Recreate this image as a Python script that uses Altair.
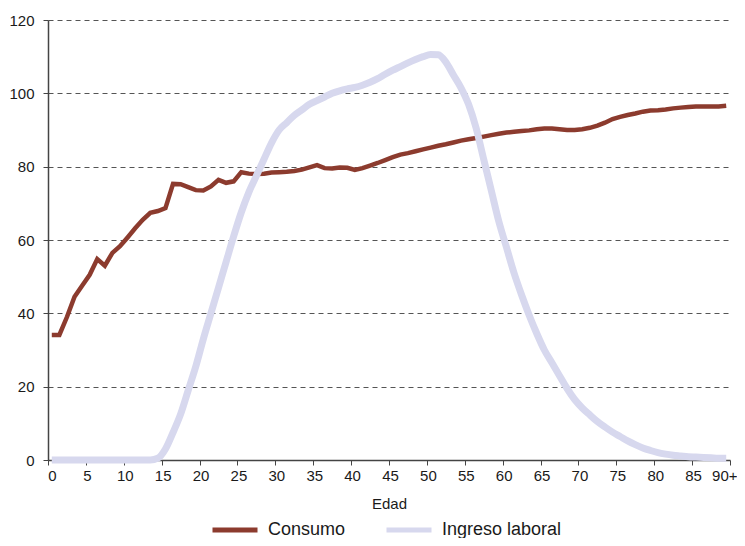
import altair as alt
import pandas as pd

edad = list(range(90))

consumo = [34.1, 34.1, 39.0, 44.5, 47.5, 50.5, 54.8, 53.0, 56.5, 58.3,
           60.7, 63.2, 65.5, 67.4, 67.9, 68.7, 75.3, 75.2, 74.4, 73.6,
           73.5, 74.6, 76.4, 75.6, 76.0, 78.5, 78.1, 78.0, 78.1, 78.4,
           78.5, 78.6, 78.8, 79.2, 79.8, 80.4, 79.6, 79.5, 79.8, 79.7,
           79.1, 79.6, 80.3, 81.0, 81.8, 82.6, 83.3, 83.7, 84.2, 84.7,
           85.2, 85.7, 86.1, 86.6, 87.1, 87.5, 87.8, 88.2, 88.6, 89.0,
           89.3, 89.5, 89.7, 89.9, 90.2, 90.4, 90.4, 90.2, 90.0, 90.0,
           90.2, 90.6, 91.2, 92.0, 93.0, 93.6, 94.1, 94.5, 95.0, 95.3,
           95.4, 95.6, 95.9, 96.1, 96.3, 96.4, 96.4, 96.4, 96.4, 96.6]

ingreso = [0, 0, 0, 0, 0, 0, 0, 0, 0, 0,
           0, 0, 0, 0, 0.5, 3.0, 7.5, 12.5, 19.0, 25.5,
           33.0, 40.0, 47.0, 54.0, 61.0, 67.5, 73.0, 77.5, 82.0, 86.5,
           90.0, 92.0, 94.0, 95.5, 97.0, 98.0, 99.0, 100.0, 100.7, 101.2,
           101.6, 102.2, 103.0, 104.0, 105.2, 106.3, 107.3, 108.3, 109.2, 110.0,
           110.6, 110.5, 108.5, 105.0, 101.5, 97.0, 90.5, 82.0, 73.5, 65.0,
           58.0, 51.0, 45.0, 39.5, 34.5, 30.0, 26.5, 23.0, 19.5, 16.5,
           14.2, 12.3, 10.5, 9.0, 7.6, 6.4, 5.2, 4.2, 3.3, 2.6,
           2.0, 1.6, 1.3, 1.1, 0.9, 0.8, 0.7, 0.6, 0.5, 0.5]

series = ["Consumo", "Ingreso laboral"]
colores = ["#8c3b2e", "#d7d8ee"]
ticks_x = list(range(0, 91, 5))
ticks_y = list(range(0, 121, 20))

df = pd.DataFrame({"edad": edad, "Consumo": consumo, "Ingreso laboral": ingreso}).melt(
    "edad", var_name="serie", value_name="valor")

FONT = "Liberation Sans, Arial, sans-serif"

base = alt.Chart(df).transform_calculate(pos="datum.edad + 0.5")

x = alt.X("pos:Q",
          scale=alt.Scale(domain=[0, 90], nice=False, zero=False),
          axis=alt.Axis(values=ticks_x,
                        labelExpr="datum.value == 90 ? '90+' : datum.label",
                        labelFlush=False,
                        labelAlign={"condition": {"test": "datum.value == 90", "value": "right"},
                                    "value": "center"},
                        labelOffset={"condition": [{"test": "datum.value == 90", "value": 7},
                                                   {"test": "datum.value == 0", "value": 4}],
                                     "value": 1},
                        title="Edad", grid=False, tickSize=5,
                        labelPadding=3, titlePadding=13,
                        labelFontSize=15, titleFontSize=15,
                        titleFontWeight="normal"))
y = alt.Y("valor:Q",
          scale=alt.Scale(domain=[0, 120], nice=False),
          axis=alt.Axis(values=ticks_y, title=None, grid=True,
                        gridDash=[5, 4], gridColor="#555555", gridWidth=1,
                        tickSize=5, labelPadding=9, labelFontSize=15))
color = alt.Color("serie:N",
                  scale=alt.Scale(domain=series, range=colores),
                  legend=alt.Legend(title=None, orient="none", direction="horizontal",
                                    legendX=162, legendY=485,
                                    symbolType="stroke", symbolSize=2025,
                                    symbolStrokeWidth=5, labelFontSize=18,
                                    labelOffset=8, columnPadding=30,
                                    labelColor="#1a1a1a"))

l1 = base.transform_filter("datum.serie == 'Consumo'").mark_line(
    strokeWidth=4.5).encode(x=x, y=y, color=color)
l2 = base.transform_filter("datum.serie == 'Ingreso laboral'").mark_line(
    strokeWidth=7, interpolate="monotone").encode(x=x, y=y, color=color)

chart = alt.layer(l1, l2).properties(
    width=682, height=440,
    autosize=alt.AutoSizeParams(type="none"),
    padding={"left": 40, "top": 12, "right": 7, "bottom": 78},
).configure_view(stroke=None).configure_axis(
    domainColor="#444444", domainWidth=1.5, tickColor="#444444",
    labelColor="#1a1a1a", titleColor="#1a1a1a",
    labelFont=FONT, titleFont=FONT,
).configure_legend(labelFont=FONT)

chart.save("out.html", embed_options={"renderer": "svg", "actions": False})
